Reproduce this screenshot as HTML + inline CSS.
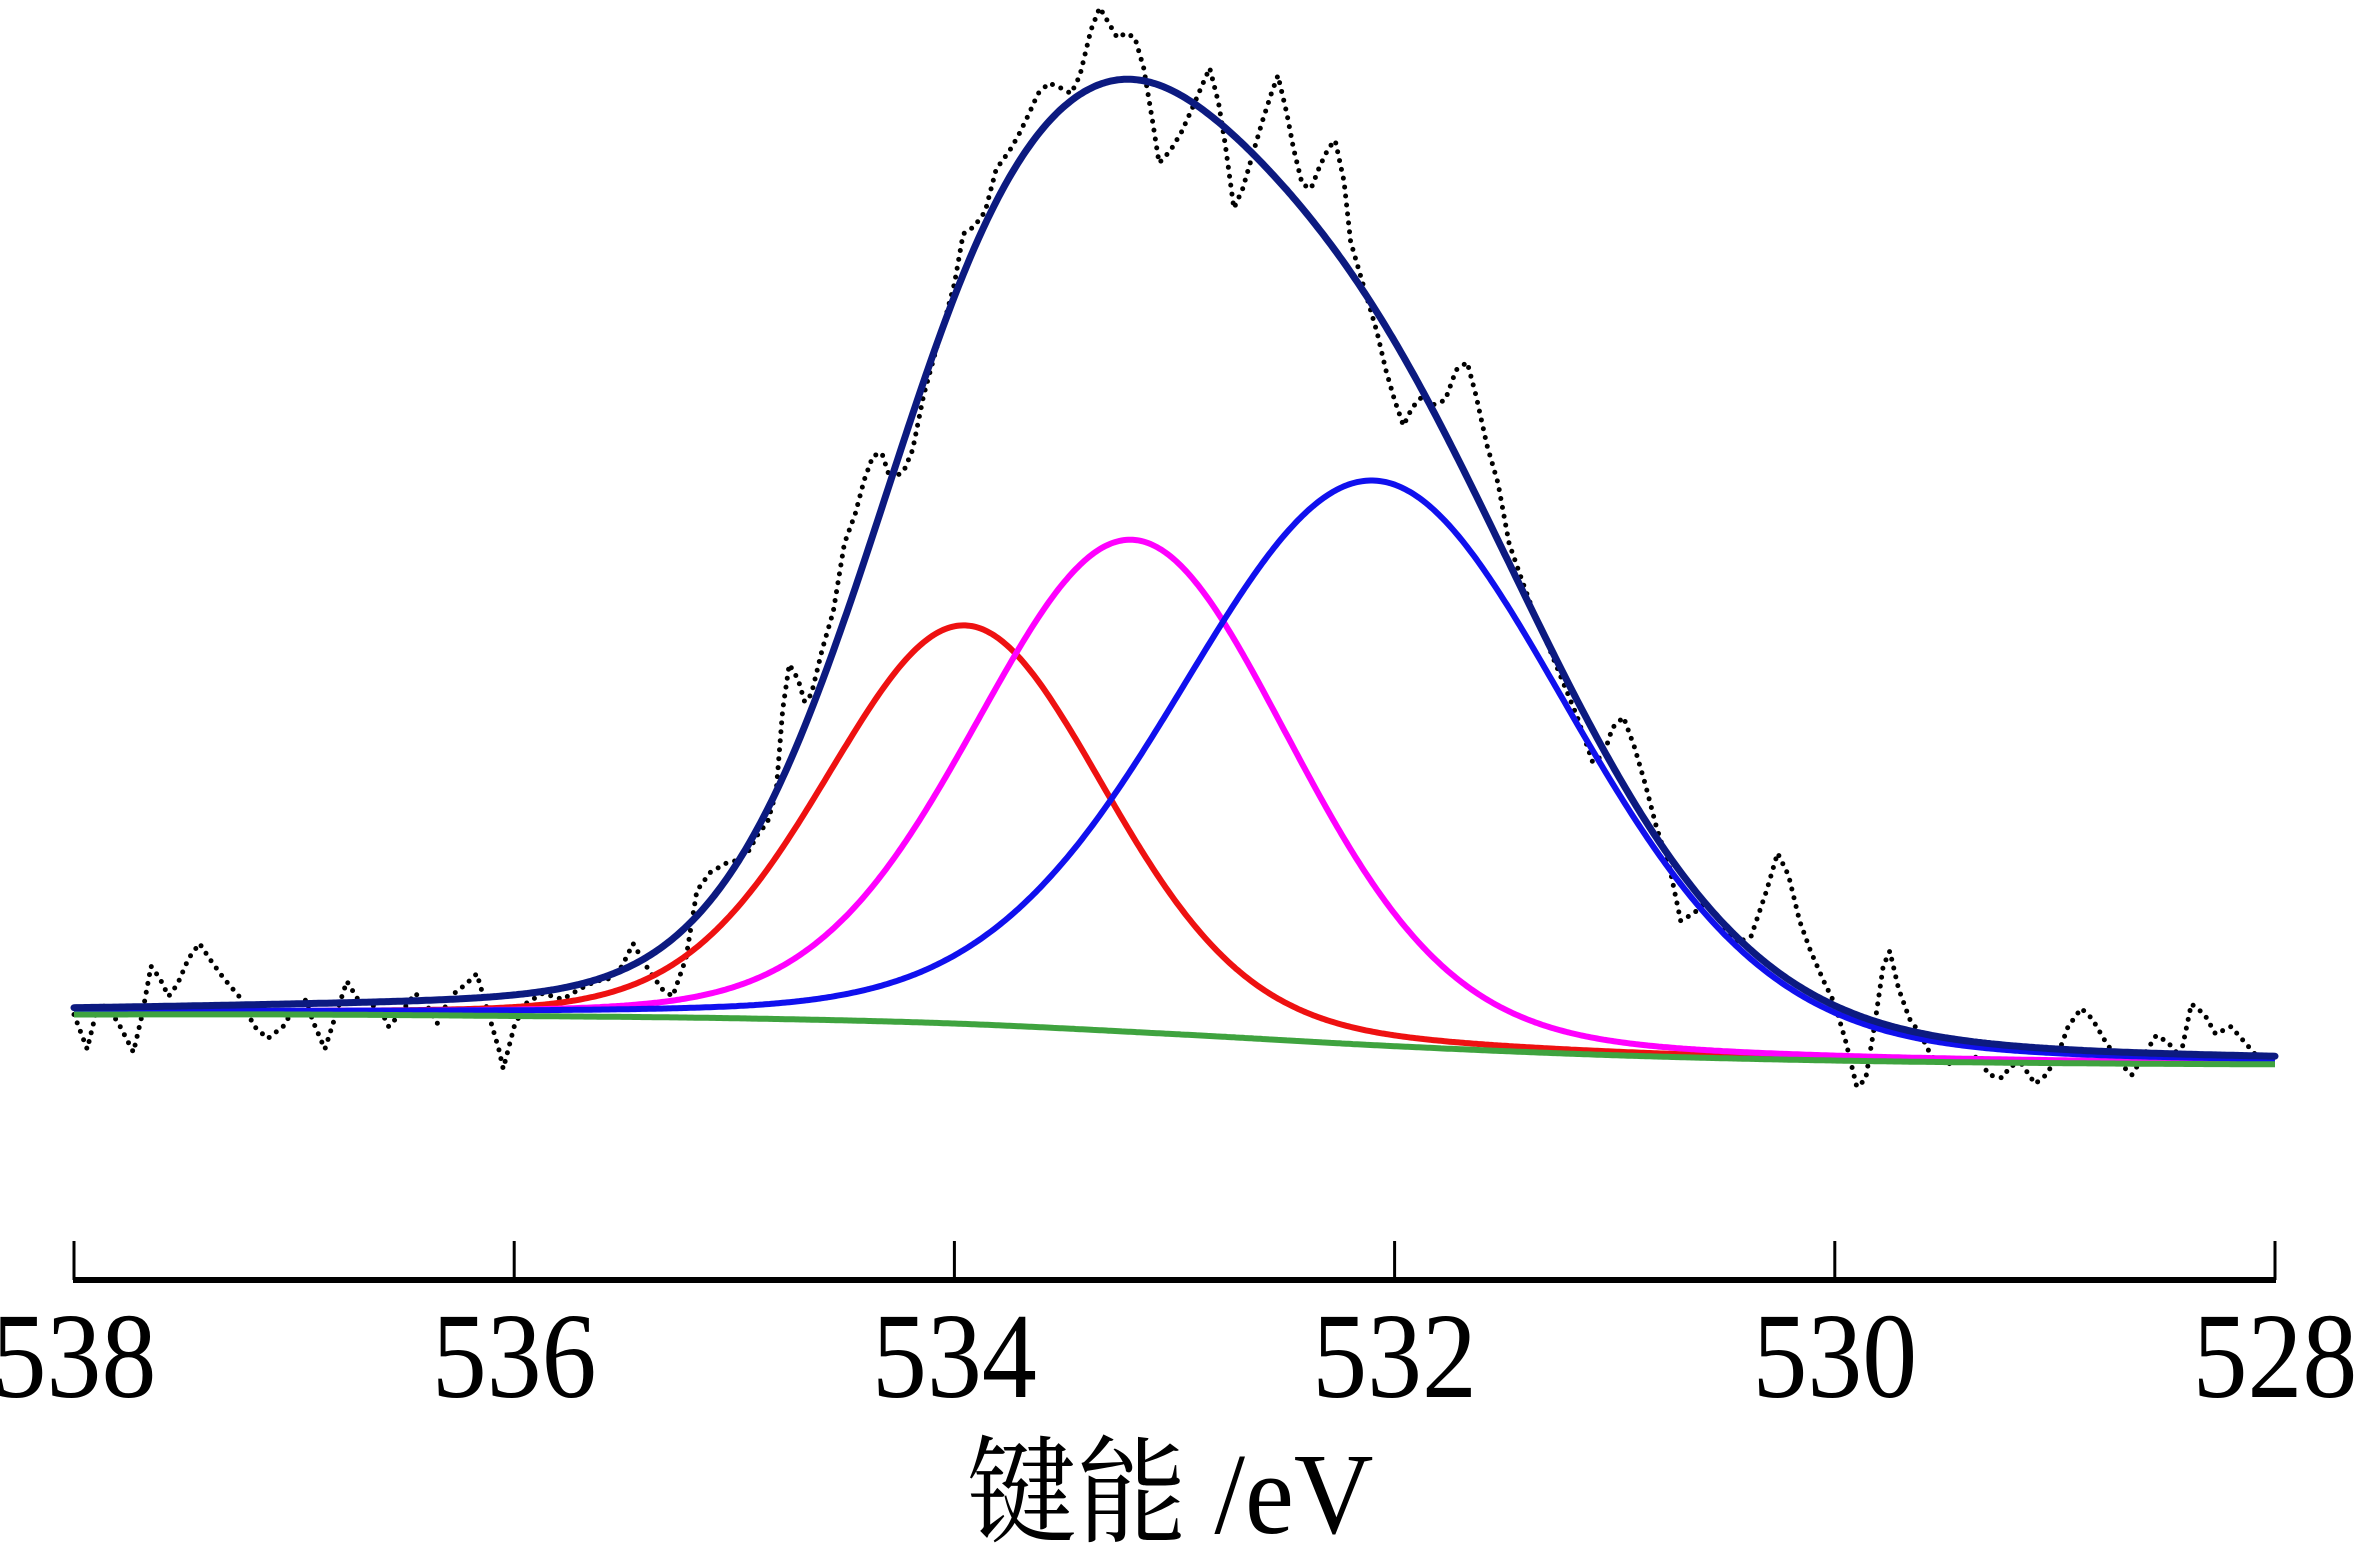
<!DOCTYPE html>
<html><head><meta charset="utf-8"><style>
html,body{margin:0;padding:0;background:#fff;width:2367px;height:1547px;overflow:hidden}
svg{display:block}
text{font-family:"Liberation Serif","Noto Serif CJK SC",serif;fill:#000}
</style></head><body>
<svg id="chart" width="2367" height="1547" viewBox="0 0 2367 1547" xmlns="http://www.w3.org/2000/svg">
<g id="plot"></g>
<g id="axis"></g>
<text x="1170" y="1533" font-size="116" text-anchor="middle" xml:space="preserve" transform="translate(1170 0) scale(0.95 1) translate(-1170 0)">键能 /eV</text>
</svg>
<script>
const rawEnergy=[538.00,537.94,537.89,537.84,537.79,537.73,537.69,537.65,537.61,537.57,537.53,537.48,537.43,537.38,537.32,537.25,537.18,537.12,537.05,537.00,536.95,536.91,536.86,536.81,536.76,536.71,536.66,536.61,536.57,536.52,536.45,536.40,536.35,536.29,536.22,536.17,536.13,536.07,536.05,536.00,535.95,535.87,535.78,535.70,535.63,535.56,535.51,535.46,535.40,535.33,535.28,535.22,535.17,535.11,535.04,534.99,534.94,534.89,534.85,534.81,534.78,534.75,534.71,534.68,534.65,534.60,534.55,534.50,534.45,534.41,534.37,534.33,534.29,534.23,534.19,534.14,534.08,534.04,534.00,533.96,533.91,533.86,533.81,533.75,533.71,533.66,533.62,533.57,533.52,533.47,533.43,533.38,533.34,533.30,533.26,533.22,533.18,533.14,533.10,533.07,533.02,532.97,532.92,532.87,532.84,532.80,532.77,532.73,532.69,532.65,532.60,532.56,532.53,532.49,532.46,532.42,532.38,532.34,532.30,532.27,532.23,532.20,532.16,532.12,532.08,532.04,532.00,531.96,531.92,531.87,531.82,531.77,531.72,531.67,531.63,531.58,531.53,531.48,531.42,531.37,531.31,531.24,531.17,531.10,531.05,531.01,530.96,530.91,530.86,530.81,530.75,530.70,530.64,530.59,530.52,530.45,530.38,530.31,530.26,530.21,530.16,530.11,530.05,530.00,529.95,529.90,529.86,529.82,529.78,529.75,529.71,529.66,529.61,529.56,529.49,529.42,529.35,529.30,529.24,529.20,529.15,529.09,529.04,528.99,528.94,528.88,528.83,528.77,528.70,528.65,528.60,528.54,528.49,528.43,528.38,528.32,528.27,528.20,528.14,528.08,528.00];
const rawIntensity=[33,10,40,37,25,8,33,65,57,45,53,70,80,69,57,45,25,17,25,37,43,27,10,33,55,43,40,37,25,33,47,40,27,45,53,60,40,10,-3,25,40,47,43,50,55,57,65,80,65,50,45,70,115,127,133,135,140,153,160,180,235,265,255,240,245,275,300,345,365,387,403,405,387,393,407,443,475,495,517,550,555,565,593,605,615,630,643,650,647,643,655,685,700,690,680,683,680,660,625,597,605,617,633,650,660,637,610,567,580,600,625,643,655,630,607,583,580,595,607,612,585,545,525,505,485,460,440,423,435,443,437,440,460,465,443,410,385,345,320,300,280,255,230,200,205,223,230,210,185,157,130,95,100,107,95,80,85,115,140,125,95,75,55,40,15,-15,-10,25,65,75,50,30,20,5,0,3,5,-7,-9,-1,0,-13,-7,5,25,37,30,15,0,-7,5,19,15,5,40,33,20,25,15,5,0];
const bgEnergy=[538,537,536,535,534,533,532,531,530,529,528];
const bgIntensity=[33,33,32,30.5,27,20,12,6,2.5,0.8,0];
const peakNames=['red','magenta','blue'];
const peakCenters=[533.95,533.19,532.09];
const peakHeights=[264,326,374];
const peakFwhm=[1.5,1.7,2.1];
const peakColors=['#ee1111','#ff00ff','#1010ee'];
const tickValues=[538,536,534,532,530,528];
const tickLabels=['538','536','534','532','530','528'];

const NS='http://www.w3.org/2000/svg';
function xScale(e){return 74+(538-e)*220.1;}
function yScale(v){return 1064.3-v*1.5096;}
function bgAt(e){
  const n=bgEnergy.length;
  for(let i=0;i<n-1;i++){
    if(e<=bgEnergy[i]&&e>=bgEnergy[i+1]){
      const t=(bgEnergy[i]-e)/(bgEnergy[i]-bgEnergy[i+1]);
      const p0=bgIntensity[Math.max(0,i-1)],p1=bgIntensity[i],p2=bgIntensity[i+1],p3=bgIntensity[Math.min(n-1,i+2)];
      const t2=t*t,t3=t2*t;
      return 0.5*((2*p1)+(-p0+p2)*t+(2*p0-5*p1+4*p2-p3)*t2+(-p0+3*p1-3*p2+p3)*t3);
    }
  }
  return 0;
}
function peakAt(k,e){
  const d=(e-peakCenters[k])/peakFwhm[k];
  const g=Math.exp(-4*Math.LN2*d*d);
  const l=1/(1+4*d*d);
  return peakHeights[k]*(0.85*g+0.15*l);
}
function mk(tag,attrs,parent){const el=document.createElementNS(NS,tag);for(const k in attrs)el.setAttribute(k,attrs[k]);parent.appendChild(el);return el;}
const plot=document.getElementById('plot');
const axis=document.getElementById('axis');
const grid=[];for(let e=538;e>=527.999;e-=0.01)grid.push(e);

let d='';rawEnergy.forEach((e,i)=>{d+=(i?'L':'M')+xScale(e).toFixed(1)+' '+yScale(rawIntensity[i]).toFixed(1);});
const raw=mk('path',{d:d,fill:'none',stroke:'#000','stroke-width':5,'stroke-dasharray':'0 9','stroke-linecap':'round','stroke-linejoin':'round'},plot);



peakNames.forEach((n,k)=>{
  let p='';grid.forEach((e,i)=>{p+=(i?'L':'M')+xScale(e).toFixed(1)+' '+yScale(peakAt(k,e)+bgAt(e)).toFixed(1);});
  const el=mk('path',{d:p,fill:'none',stroke:peakColors[k],'stroke-width':6},plot);
  
  
});
let bp='';grid.forEach((e,i)=>{bp+=(i?'L':'M')+xScale(e).toFixed(1)+' '+yScale(bgAt(e)).toFixed(1);});
const bg=mk('path',{d:bp,fill:'none',stroke:'#3fa33f','stroke-width':6},plot);


let ep='';grid.forEach((e,i)=>{let s=bgAt(e);for(let k=0;k<peakNames.length;k++)s+=peakAt(k,e);ep+=(i?'L':'M')+xScale(e).toFixed(1)+' '+yScale(s).toFixed(1);});
const env=mk('path',{d:ep,fill:'none',stroke:'#0c1a80','stroke-width':7,'stroke-linecap':'round'},plot);



const al=mk('line',{x1:xScale(538)-1,x2:xScale(528)+1,y1:1280,y2:1280,stroke:'#000','stroke-width':6},axis);


tickValues.forEach((v,i)=>{
  const x=xScale(v);
  const t=mk('line',{x1:x,x2:x,y1:1241,y2:1280,stroke:'#000','stroke-width':3},axis);
  
  
  const lb=mk('text',{x:x,y:1397,'font-size':122,'text-anchor':'middle',transform:'translate('+x+' 0) scale(0.9 1) translate('+(-x)+' 0)'},axis);
  lb.textContent=tickLabels[i];
  
  
});
</script>
</body></html>
